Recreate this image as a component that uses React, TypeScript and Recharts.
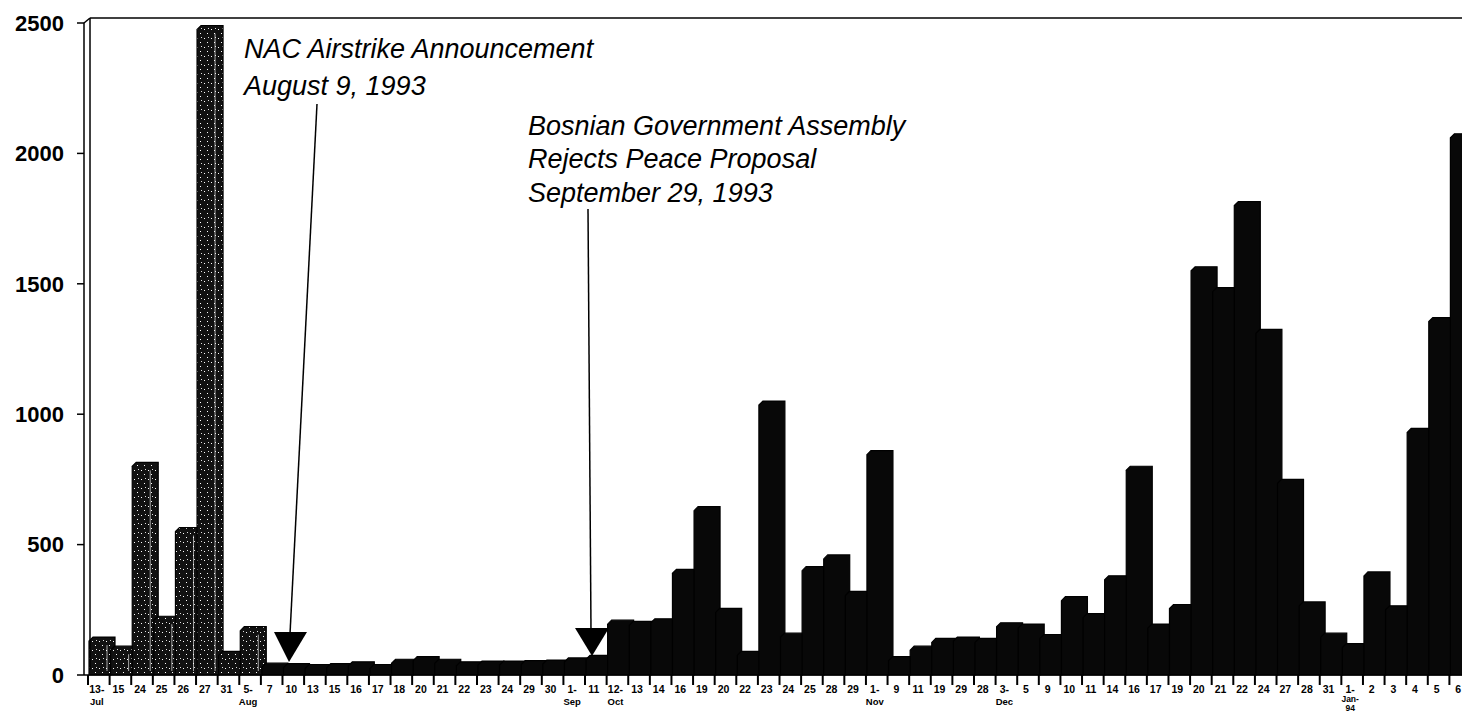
import { Bar, BarChart, XAxis, YAxis } from 'recharts';

// day labels along the x axis, Jul 1993 to Jan 1994
const days = [
  '13-', '15', '24', '25', '26', '27', '31',
  '5-', '7', '10', '13', '15', '16', '17', '18', '20', '21', '22', '23', '24', '29', '30',
  '1-', '11',
  '12-', '13', '14', '16', '19', '20', '22', '23', '24', '25', '28', '29',
  '1-', '9', '11', '19', '29', '28',
  '3-', '5', '9', '10', '11', '14', '16', '17', '19', '20', '21', '22', '24', '27', '28', '31',
  '1-', '2', '3', '4', '5', '6',
];

// month names printed under the first day of each month
const monthAt: Record<number, string[]> = {
  0: ['Jul'],
  7: ['Aug'],
  22: ['Sep'],
  24: ['Oct'],
  36: ['Nov'],
  42: ['Dec'],
  58: ['Jan-', '94'],
};

const counts = [
  130, 95, 800, 210, 550, 2475, 75,
  170, 30, 28, 25, 28, 35, 25, 45, 55, 45, 35, 38, 38, 40, 42,
  50, 60,
  195, 190, 200, 390, 630, 240, 75, 1035, 145, 400, 445, 305,
  845, 55, 95, 125, 130, 125,
  185, 180, 140, 285, 220, 365, 785, 180, 255, 1550, 1470, 1800, 1310, 735, 265, 145,
  105, 380, 250, 930, 1355, 2060,
];

const yTicks = [0, 500, 1000, 1500, 2000, 2500];

const data = days.map((day, i) => ({ key: String(i), day, value: counts[i] }));

const BAND = 21.6;
const FONT = '"Liberation Sans", Arial, sans-serif';

function Bar3D(props: any) {
  const { x, y, width, height, index } = props;
  const d = 4;
  const x0 = x + 1;
  const x1 = x + width + 1;
  const base = y + height;
  const speckled = index < 8;
  return (
    <g>
      <path
        d={`M${x0},${base} L${x0},${y} L${x0 + d},${y - d} L${x1 + d},${y - d} L${x1 + d},${base - d} L${x1},${base} Z`}
        fill={speckled ? 'url(#speckle)' : '#080808'}
        stroke="#000"
        strokeWidth={1.2}
      />
      {speckled && height > 20 && (
        <line x1={x1 - 4} y1={y + 4} x2={x1 - 4} y2={base - 4} stroke="#fff" strokeWidth={0.8} opacity={0.8} />
      )}
    </g>
  );
}

function DayTick(props: any) {
  const { x, y, payload } = props;
  const i = Number(payload.value);
  const left = x - BAND / 2;
  const months = monthAt[i] || [];
  const twoLine = months.length > 1;
  return (
    <g>
      <line x1={left} y1={y} x2={left} y2={y + 10} stroke="#000" strokeWidth={2} />
      <text x={x - 2} y={y + 18} textAnchor="middle" fontFamily={FONT} fontWeight="bold" fontSize={10.5} fill="#000">
        {days[i]}
      </text>
      {months.map((m, k) => (
        <text
          key={k}
          x={x - 2}
          y={twoLine ? y + 27 + k * 9 : y + 30}
          textAnchor="middle"
          fontFamily={FONT}
          fontWeight="bold"
          fontSize={twoLine ? 8.5 : 9.5}
          fill="#000"
        >
          {m}
        </text>
      ))}
    </g>
  );
}

export default function App() {
  return (
    <div style={{ position: 'absolute', left: 0, top: 0, width: 1462, height: 713, overflow: 'hidden', background: '#fff' }}>
      <svg width={0} height={0} style={{ position: 'absolute' }}>
        <defs>
          <pattern id="speckle" width={7} height={9} patternUnits="userSpaceOnUse">
            <rect width={7} height={9} fill="#111" />
            <rect x={1} y={2} width={1} height={1} fill="#fff" />
            <rect x={4} y={6} width={1} height={1} fill="#fff" />
            <rect x={5} y={1} width={1} height={1} fill="#ddd" />
          </pattern>
        </defs>
      </svg>
      <BarChart
        width={1471}
        height={713}
        data={data}
        margin={{ top: 23, right: 0, bottom: 0, left: 0 }}
        barCategoryGap={0}
      >
        <XAxis
          dataKey="key"
          interval={0}
          height={38}
          tickLine={false}
          tickSize={0}
          tickMargin={0}
          padding={{ left: 4, right: 0 }}
          axisLine={{ stroke: '#000', strokeWidth: 1.5 }}
          tick={<DayTick />}
        />
        <YAxis
          width={84}
          domain={[0, 2500]}
          ticks={yTicks}
          tickSize={7}
          tickMargin={13}
          axisLine={{ stroke: '#000', strokeWidth: 1.5 }}
          tickLine={{ stroke: '#000', strokeWidth: 1.5 }}
          tick={{ fontFamily: FONT, fontSize: 22, fill: '#000', fontWeight: 'bold' }}
        />
        <Bar dataKey="value" isAnimationActive={false} shape={<Bar3D />} />
      </BarChart>
      <svg width={1462} height={713} style={{ position: 'absolute', left: 0, top: 0, pointerEvents: 'none' }}>
        {/* back wall edges */}
        <line x1={84} y1={23} x2={90} y2={18} stroke="#000" strokeWidth={1.5} />
        <line x1={90} y1={18} x2={90} y2={670} stroke="#000" strokeWidth={1.5} />
        <line x1={90} y1={18} x2={1462} y2={18} stroke="#000" strokeWidth={1.5} />
        {/* annotations */}
        <g fontFamily={FONT} fontStyle="italic" fontSize={27} fill="#000">
          <text x={244} y={58}>NAC Airstrike Announcement</text>
          <text x={244} y={95}>August 9, 1993</text>
          <text x={528} y={135}>Bosnian Government Assembly</text>
          <text x={528} y={168}>Rejects Peace Proposal</text>
          <text x={528} y={202}>September 29, 1993</text>
        </g>
        <line x1={317} y1={104} x2={290} y2={634} stroke="#000" strokeWidth={1.5} />
        <polygon points="274,632 307,632 289,662" fill="#000" />
        <line x1={588} y1={209} x2={591} y2={630} stroke="#000" strokeWidth={1.5} />
        <polygon points="575,628 609,628 592,656" fill="#000" />
      </svg>
    </div>
  );
}
